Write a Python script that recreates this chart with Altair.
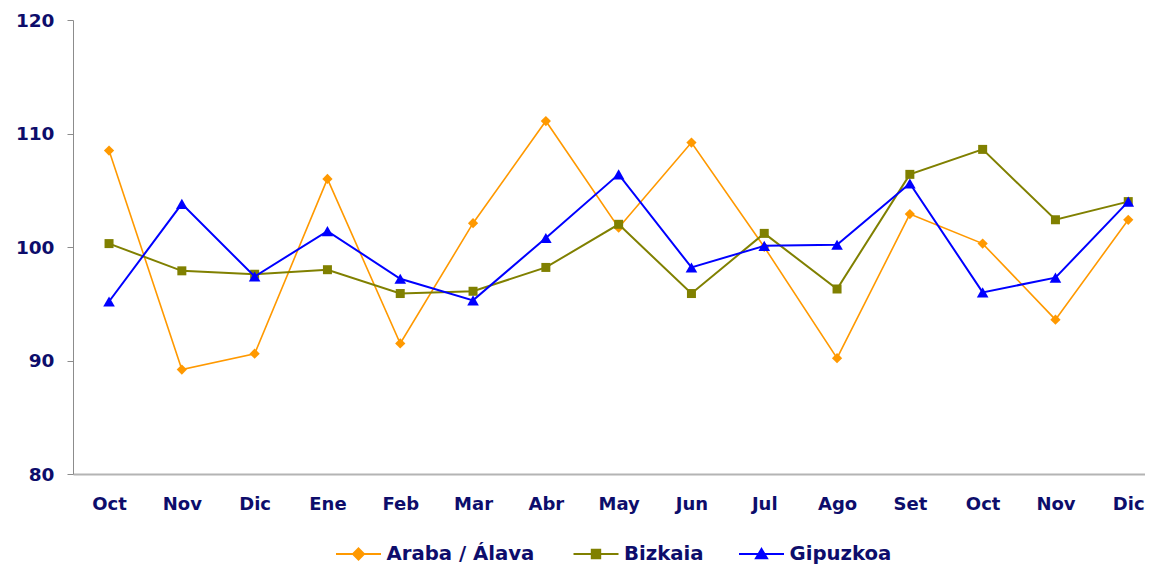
import altair as alt
import pandas as pd

months = ["Oct", "Nov", "Dic", "Ene", "Feb", "Mar", "Abr", "May", "Jun", "Jul", "Ago", "Set", "Oct", "Nov", "Dic"]
series_names = ["Araba / Álava", "Bizkaia", "Gipuzkoa"]
araba = [108.5, 89.2, 90.6, 106.0, 91.5, 102.1, 111.1, 101.7, 109.2, 100.0, 90.2, 102.9, 100.3, 93.6, 102.4]
bizkaia = [100.3, 97.9, 97.6, 98.0, 95.9, 96.1, 98.2, 102.0, 95.9, 101.2, 96.3, 106.4, 108.6, 102.4, 104.0]
gipuzkoa = [95.2, 103.8, 97.4, 101.4, 97.2, 95.3, 100.8, 106.4, 98.2, 100.1, 100.2, 105.6, 96.0, 97.3, 104.0]
colors = ["#FF9900", "#808000", "#0000FF"]
marker_shapes = ["diamond", "square", "triangle-up"]
marker_sizes = [105, 81, 135]
line_widths = [1.6, 2, 2]
# legend symbols: a 45px line with the marker in the middle (unit = 10px)
legend_paths = [
    "M-2.25,0H2.25M0,-0.55L0.55,0L0,0.55L-0.55,0Z",
    "M-2.25,0H2.25M-0.42,-0.42H0.42V0.42H-0.42Z",
    "M-2.25,0H2.25M0,-0.5L0.55,0.42H-0.55Z",
]
legend_x = [274.5, 512, 677.5]

rows = []
for name, vals in zip(series_names, [araba, bizkaia, gipuzkoa]):
    for i, v in enumerate(vals):
        rows.append({"idx": i, "mes": months[i], "serie": name, "valor": v})
df = pd.DataFrame(rows)

NAVY = "#0d0d6b"
FONT = "DejaVu Sans"
label_expr = "[" + ",".join("'%s'" % m for m in months) + "][datum.value]"

x_enc = alt.X(
    "idx:Q",
    scale=alt.Scale(domain=[-0.495, 14.23], nice=False, zero=False),
    axis=alt.Axis(
        title=None, values=list(range(len(months))), labelExpr=label_expr,
        ticks=False, grid=False, domainColor="#b4b4b4", domainWidth=2,
        labelFont=FONT, labelFontSize=18, labelFontWeight="bold", labelColor=NAVY,
        labelPadding=21, labelFlush=False, labelOverlap=False,
    ),
)
y_enc = alt.Y(
    "valor:Q",
    scale=alt.Scale(domain=[80, 120], nice=False, zero=False),
    axis=alt.Axis(
        title=None, values=[80, 90, 100, 110, 120], grid=False,
        tickSize=6, tickColor="#8c8c8c", domainColor="#8c8c8c",
        labelFont=FONT, labelFontSize=18.5, labelFontWeight="bold", labelColor=NAVY,
        labelPadding=13,
    ),
)

base = alt.Chart(df)
layers = []
for k, name in enumerate(series_names):
    legend = alt.Legend(
        title=None, orient="none", direction="horizontal",
        legendX=legend_x[k], legendY=523,
        symbolType=legend_paths[k], symbolSize=400,
        symbolStrokeWidth=2, symbolStrokeColor=colors[k], symbolFillColor=colors[k],
        symbolOpacity=1,
        labelFont=FONT, labelFontSize=19.7, labelFontWeight="bold", labelColor=NAVY,
        labelOffset=17,
    )
    sub = base.transform_filter(alt.datum.serie == name)
    line = sub.mark_line(color=colors[k], strokeWidth=line_widths[k]).encode(x=x_enc, y=y_enc, order="idx:Q")
    pts = sub.mark_point(filled=True, opacity=1, shape=marker_shapes[k], size=marker_sizes[k]).encode(
        x=x_enc, y=y_enc,
        color=alt.Color("serie:N", scale=alt.Scale(domain=[name], range=[colors[k]]), legend=legend),
    )
    layers.append(alt.layer(line, pts))

chart = alt.layer(*layers).resolve_scale(color="independent").resolve_legend(color="independent").properties(
    width=1072, height=454,
    padding={"left": 65, "top": 12, "right": 0, "bottom": 90},
    autosize=alt.AutoSizeParams(type="none"),
    background="white",
).configure_view(stroke=None)

chart.save("out.html", embed_options={"renderer": "svg", "actions": False})
